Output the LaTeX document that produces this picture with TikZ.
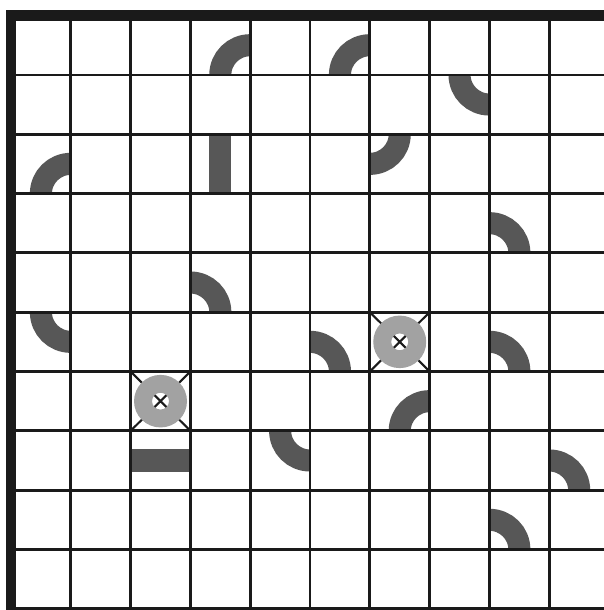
\documentclass[tikz,border=0pt]{standalone}
\usepackage{tikz}
\usepackage{xcolor}
\definecolor{ink}{HTML}{1A1A1A}
\definecolor{track}{HTML}{575757}
\definecolor{ringgray}{HTML}{A2A2A2}

\begin{document}
\begin{tikzpicture}[x=1cm, y=0.992cm,
  tile/.style={track, line width=10.5pt},
  gridline/.style={ink, line width=1.3pt}]
  \useasboundingbox (-0.184,-0.02) rectangle (9.9,10.262);
  \fill[white] (-0.184,-0.02) rectangle (9.9,10.262);

  % curved pieces: corner x / corner y / start angle
  \foreach \cx/\cy/\a in {4/9/90, 6/9/90, 8/9/180, 1/7/90, 6/8/270, 8/6/0, 3/5/0,
                          1/5/180, 5/4/0, 8/4/0, 7/3/90, 5/3/180, 9/2/0, 8/1/0}
    \draw[tile] (\cx,\cy) ++(\a:0.5) arc[start angle=\a, delta angle=90, radius=0.5];

  % straight pieces
  \draw[tile] (3.5,7) -- (3.5,8);
  \draw[tile] (2,2.5) -- (3,2.5);

  % crossed cells with ring
  \foreach \c/\r in {6/4, 2/3} {
    \draw[ink, line width=1pt] (\c,\r) -- ++(1,1) (\c,\r+1) -- ++(1,-1);
    \fill[ringgray, even odd rule] (\c+0.5,\r+0.5) circle[radius=0.443] circle[radius=0.142];
  }

  % grid
  \foreach \i in {1,...,9}
    \draw[gridline] (\i,-0.1) -- (\i,10);
  \foreach \j in {0,...,9}
    \draw[gridline] (0,\j) -- (10,\j);

  % outer frame
  \draw[ink, line width=5pt] (0,-0.1) -- (0,10) -- (10,10);
\end{tikzpicture}
\end{document}
